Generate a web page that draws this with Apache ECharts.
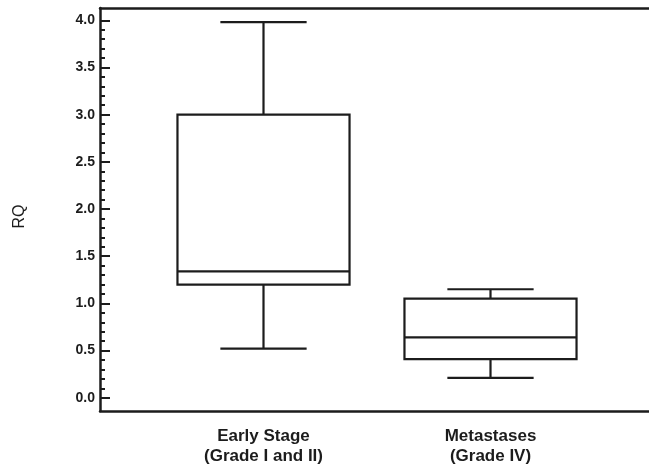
<!DOCTYPE html>
<html>
<head>
<meta charset="utf-8">
<script src="https://cdn.jsdelivr.net/npm/echarts@6/dist/echarts.min.js"></script>
<style>
  html, body { margin: 0; padding: 0; background: #fff; }
  #main { width: 649px; height: 475px; }
</style>
</head>
<body>
<div id="main"></div>
<script>
// ---- data ----
var categories = ['Early Stage\n(Grade I and II)', 'Metastases\n(Grade IV)'];
var whiskerLow  = [0.52, 0.21];
var q1          = [1.20, 0.41];
var median      = [1.34, 0.64];
var q3          = [3.00, 1.05];
var whiskerHigh = [3.98, 1.15];
var majorTicks = [0, 0.5, 1, 1.5, 2, 2.5, 3, 3.5, 4];
var minorTicks = [];
for (var i = 0; i <= 40; i++) { minorTicks.push(i / 10); }

var yMin = -0.14, yMax = 4.13;
var ink = '#1c1c1c';
var font = 'Liberation Sans, Arial, sans-serif';

var boxData = [];
for (var k = 0; k < categories.length; k++) {
  boxData.push([k, whiskerLow[k], q1[k], median[k], q3[k], whiskerHigh[k]]);
}

// draws one box: whiskers, caps (half the box width), box, median
function renderBox(params, api) {
  var x = api.value(0);
  var band = api.size([1, 0])[0];
  var halfBox = band * 0.379;
  var halfCap = band * 0.19;
  var pLow = api.coord([x, api.value(1)]);
  var pQ1 = api.coord([x, api.value(2)]);
  var pMed = api.coord([x, api.value(3)]);
  var pQ3 = api.coord([x, api.value(4)]);
  var pHigh = api.coord([x, api.value(5)]);
  var cx = pMed[0];
  var st = { stroke: ink, lineWidth: 2.2, fill: null };
  function line(x1, y1, x2, y2) {
    return { type: 'line', shape: { x1: x1, y1: y1, x2: x2, y2: y2 }, style: st };
  }
  return {
    type: 'group',
    children: [
      line(cx, pHigh[1], cx, pQ3[1]),
      line(cx, pLow[1], cx, pQ1[1]),
      line(cx - halfCap, pHigh[1], cx + halfCap, pHigh[1]),
      line(cx - halfCap, pLow[1], cx + halfCap, pLow[1]),
      { type: 'rect', shape: { x: cx - halfBox, y: pQ3[1], width: halfBox * 2, height: pQ1[1] - pQ3[1] },
        style: { stroke: ink, lineWidth: 2.2, fill: 'rgba(0,0,0,0)' } },
      line(cx - halfBox, pMed[1], cx + halfBox, pMed[1])
    ]
  };
}

var option = {
  animation: false,
  grid: [
    { left: 100, right: 0, top: 8, bottom: 64 },
    { left: 150, right: 45, top: 8, bottom: 64 }
  ],
  xAxis: [
    { gridIndex: 0, type: 'value', min: 0, max: 1, position: 'bottom',
      axisLine: { show: true, onZero: false, lineStyle: { color: ink, width: 2.5 } },
      axisTick: { show: false }, axisLabel: { show: false }, splitLine: { show: false } },
    { gridIndex: 0, type: 'value', min: 0, max: 1, position: 'top',
      axisLine: { show: true, onZero: false, lineStyle: { color: ink, width: 2.5 } },
      axisTick: { show: false }, axisLabel: { show: false }, splitLine: { show: false } },
    { gridIndex: 1, type: 'category', data: categories, boundaryGap: true,
      axisLine: { show: false, onZero: false }, axisTick: { show: false }, splitLine: { show: false },
      axisLabel: { color: ink, fontFamily: font, fontWeight: 'bold', fontSize: 17, lineHeight: 20, margin: 15 } }
  ],
  yAxis: [
    { gridIndex: 0, type: 'value', min: yMin, max: yMax, position: 'left',
      name: 'RQ', nameLocation: 'middle', nameGap: 72, nameRotate: 90,
      nameTextStyle: { color: ink, fontFamily: font, fontSize: 16, padding: [0, 14, 0, 0] },
      axisLine: { show: true, onZero: false, lineStyle: { color: ink, width: 2.5 } },
      axisTick: { show: true, inside: true, length: 10, customValues: majorTicks,
        lineStyle: { color: ink, width: 2 } },
      axisLabel: { customValues: majorTicks, margin: 5, color: ink,
        fontFamily: font, fontWeight: 'bold', fontSize: 14,
        formatter: function (v) { return v.toFixed(1); } },
      splitLine: { show: false } },
    { gridIndex: 0, type: 'value', min: yMin, max: yMax, position: 'left', offset: 0,
      axisLine: { show: false },
      axisTick: { show: true, inside: true, length: 5, customValues: minorTicks,
        lineStyle: { color: ink, width: 2 } },
      axisLabel: { show: false }, splitLine: { show: false } },
    { gridIndex: 1, type: 'value', min: yMin, max: yMax, show: false }
  ],
  series: [
    {
      type: 'custom',
      xAxisIndex: 2,
      yAxisIndex: 2,
      silent: true,
      renderItem: renderBox,
      encode: { x: 0, y: [1, 2, 3, 4, 5] },
      data: boxData
    }
  ]
};

echarts.init(document.getElementById('main')).setOption(option);
</script>
</body>
</html>
